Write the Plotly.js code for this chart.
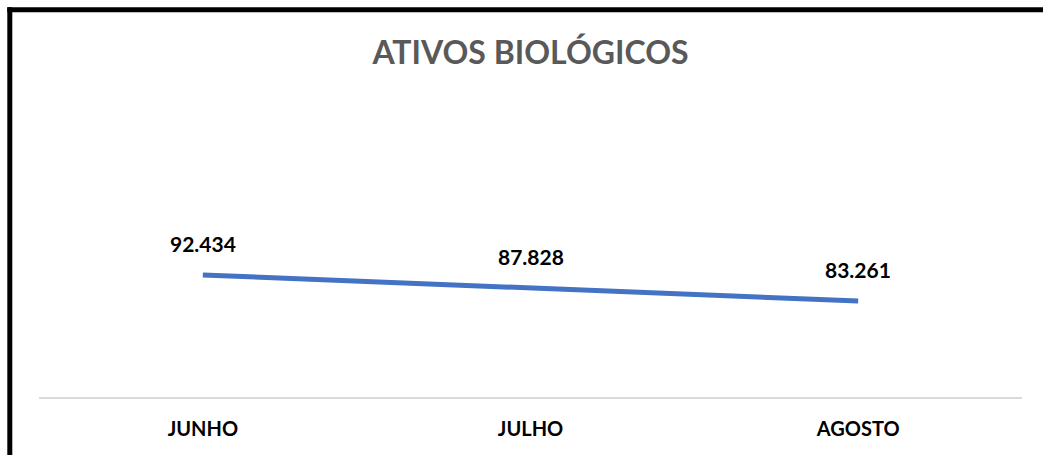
<!DOCTYPE html>
<html>
<head>
<meta charset="utf-8">
<script src="https://cdn.plot.ly/plotly-3.0.1.min.js"></script>
<style>
  html, body { margin: 0; padding: 0; background: #ffffff; }
  #chart { width: 1043px; height: 455px; }
</style>
</head>
<body>
<div id="chart"></div>
<script>
const chartTitle = 'ATIVOS BIOLÓGICOS';
const categories = ['JUNHO', 'JULHO', 'AGOSTO'];
const values = [92434, 87828, 83261];

function fmt(v) {
  return String(v).replace(/\B(?=(\d{3})+(?!\d))/g, '.');
}

const W = 1043, H = 455;
const mL = 39, mR = 21, mT = 100, mB = 58;
const pw = W - mL - mR, ph = H - mT - mB;
function px2x(px) { return (px - mL) / pw; }
function py2y(py) { return (H - mB - py) / ph; }

const trace = {
  x: categories,
  y: values,
  type: 'scatter',
  mode: 'lines',
  line: { color: '#4472C4', width: 5 },
  hoverinfo: 'skip'
};

const annotations = categories.map((c, i) => ({
  x: c, y: values[i], xref: 'x', yref: 'y',
  text: '<b>' + fmt(values[i]) + '</b>',
  showarrow: false, yshift: 32,
  font: { family: 'Lato, "Open Sans", sans-serif', size: 21, color: '#000000' }
}));

const layout = {
  width: W, height: H,
  margin: { l: mL, r: mR, t: mT, b: mB },
  paper_bgcolor: '#ffffff',
  plot_bgcolor: '#ffffff',
  showlegend: false,
  title: {
    text: '<b>' + chartTitle + '</b>',
    x: 0.5, xref: 'paper', xanchor: 'center',
    y: 1 - 53 / H, yref: 'container', yanchor: 'middle',
    font: { family: 'Lato, "Open Sans", sans-serif', size: 32, color: '#595959' }
  },
  xaxis: {
    type: 'category',
    range: [-0.5, 2.5],
    showgrid: false, zeroline: false,
    showline: true, linecolor: '#d9d9d9', linewidth: 2,
    ticks: '', ticklabelstandoff: 13,
    tickfont: { family: 'Lato, "Open Sans", sans-serif', size: 20, color: '#000000', weight: 'bold' },
    fixedrange: true
  },
  yaxis: {
    range: [49392, 154174],
    visible: false, showgrid: false, zeroline: false,
    fixedrange: true
  },
  annotations: annotations,
  shapes: [
    { type: 'line', xref: 'paper', yref: 'paper',
      x0: px2x(9.8), x1: px2x(9.8), y0: py2y(7.3), y1: py2y(470),
      line: { color: '#000000', width: 5 } },
    { type: 'line', xref: 'paper', yref: 'paper',
      x0: px2x(7.3), x1: px2x(1060), y0: py2y(9.8), y1: py2y(9.8),
      line: { color: '#000000', width: 5 } }
  ]
};

Plotly.newPlot('chart', [trace], layout, { displayModeBar: false, staticPlot: true });
</script>
</body>
</html>
